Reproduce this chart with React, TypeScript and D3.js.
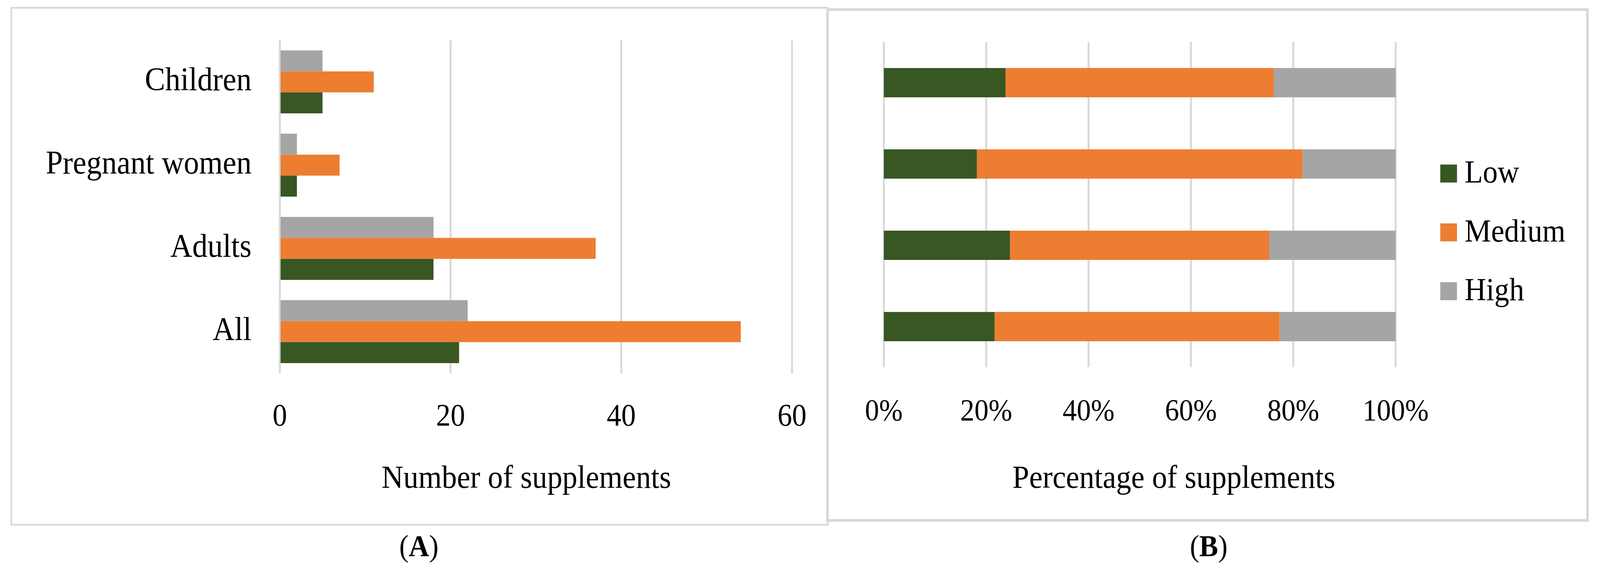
import React, { useEffect } from 'react';
import * as d3 from 'd3';

// values
const groups = ['Children', 'Pregnant women', 'Adults', 'All'];
const levels = ['Low', 'Medium', 'High'];
const lowCounts = [5, 2, 18, 21];
const mediumCounts = [11, 7, 37, 54];
const highCounts = [5, 2, 18, 22];
const countTicks = [0, 20, 40, 60];
const percentTicks = [0, 0.2, 0.4, 0.6, 0.8, 1];

const colors: Record<string, string> = { Low: '#385723', Medium: '#ED7D31', High: '#A5A5A5' };
const GRID = '#D9D9D9';
const LABEL_FONT = "'Palatino Linotype', 'Book Antiqua', Palatino, 'Liberation Serif', serif";
const AXIS_FONT = "'Times New Roman', 'Liberation Serif', serif";

const W = 4408;
const H = 1466;

type Row = { group: string; Low: number; Medium: number; High: number };

const rows: Row[] = groups.map((g, i) => ({
  group: g,
  Low: lowCounts[i],
  Medium: mediumCounts[i],
  High: highCounts[i],
}));

export default function App() {
  useEffect(() => {
    document.body.style.margin = '0';
    document.body.style.overflow = 'hidden';
  }, []);

  // Panel A: grouped counts
  const xA = d3.scaleLinear().domain([0, 60]).range([771, 2182]);
  const yA = d3.scaleBand<string>().domain(groups).range([103, 955]).paddingInner(0.244).paddingOuter(0.122);
  const subA = d3.scaleBand<string>().domain(['High', 'Medium', 'Low']).range([0, yA.bandwidth()]);

  // Panel B: 100% stacked
  const stacked = d3.stack<Row>().keys(levels).offset(d3.stackOffsetExpand)(rows);
  const xB = d3.scaleLinear().domain([0, 1]).range([2435, 3845]);
  const yB = d3.scaleBand<string>().domain(groups).range([107.5, 939.6]).paddingInner(0.64).paddingOuter(0.32);
  const pct = d3.format('.0%');

  const legendY = d3.scalePoint<string>().domain(levels).range([421, 722]);

  return (
    <svg
      viewBox={`0 0 ${W} ${H}`}
      preserveAspectRatio="none"
      style={{ position: 'fixed', left: 0, top: 0, width: '100vw', height: '100vh', display: 'block', background: '#fff' }}
    >
      <rect x={0} y={0} width={W} height={H} fill="#fff" />

      {/* frames */}
      <rect x={31} y={20} width={2250} height={1322.5} fill="none" stroke={GRID} strokeWidth={4.5} />
      <rect x={2279.5} y={24.5} width={2094} height={1307} fill="none" stroke={GRID} strokeWidth={7} />

      {/* ---- A ---- */}
      {countTicks.map((t) => (
        <line key={'ga' + t} x1={xA(t)} x2={xA(t)} y1={103} y2={955} stroke={GRID} strokeWidth={5.5} />
      ))}
      {rows.map((r) => (
        <g key={'a' + r.group} transform={`translate(0,${yA(r.group)})`}>
          {(['High', 'Medium', 'Low'] as const).map((k) => (
            <rect
              key={k}
              x={xA(0) + 2}
              y={subA(k)}
              width={xA(r[k]) - xA(0) - 2}
              height={subA.bandwidth()}
              fill={colors[k]}
            />
          ))}
        </g>
      ))}
      {groups.map((g) => (
        <text
          key={'la' + g}
          x={693}
          y={yA(g)! + yA.bandwidth() / 2 + 22}
          textAnchor="end"
          fontFamily={LABEL_FONT}
          fontSize={84}
          fill="#000"
        >
          {g}
        </text>
      ))}
      {countTicks.map((t) => (
        <text key={'ta' + t} x={xA(t)} y={1089} textAnchor="middle" fontFamily={AXIS_FONT} fontSize={80} fill="#000">
          {t}
        </text>
      ))}
      <text x={1450} y={1248} textAnchor="middle" fontFamily={AXIS_FONT} fontSize={83} fill="#000">
        Number of supplements
      </text>
      <text x={1154} y={1423} textAnchor="middle" fontFamily={AXIS_FONT} fontSize={78} fill="#000">
        (<tspan fontWeight="bold">A</tspan>)
      </text>

      {/* ---- B ---- */}
      {percentTicks.map((t) => (
        <line key={'gb' + t} x1={xB(t)} x2={xB(t)} y1={107.5} y2={939.6} stroke={GRID} strokeWidth={5.5} />
      ))}
      {stacked.map((layer) => (
        <g key={'b' + layer.key} fill={colors[layer.key]}>
          {layer.map((d) => (
            <rect
              key={d.data.group}
              x={xB(d[0])}
              y={yB(d.data.group)}
              width={xB(d[1]) - xB(d[0])}
              height={yB.bandwidth()}
            />
          ))}
        </g>
      ))}
      {percentTicks.map((t) => (
        <text key={'tb' + t} x={xB(t)} y={1075} textAnchor="middle" fontFamily={AXIS_FONT} fontSize={78} fill="#000">
          {pct(t)}
        </text>
      ))}
      <text x={3234} y={1248} textAnchor="middle" fontFamily={AXIS_FONT} fontSize={83} fill="#000">
        Percentage of supplements
      </text>
      <text x={3330} y={1423} textAnchor="middle" fontFamily={AXIS_FONT} fontSize={78} fill="#000">
        (<tspan fontWeight="bold">B</tspan>)
      </text>

      {/* legend */}
      {levels.map((k) => (
        <g key={'lg' + k} transform={`translate(3968,${legendY(k)})`}>
          <rect width={46} height={46} fill={colors[k]} />
          <text x={67} y={46} fontFamily={LABEL_FONT} fontSize={82} fill="#000">
            {k}
          </text>
        </g>
      ))}
    </svg>
  );
}
